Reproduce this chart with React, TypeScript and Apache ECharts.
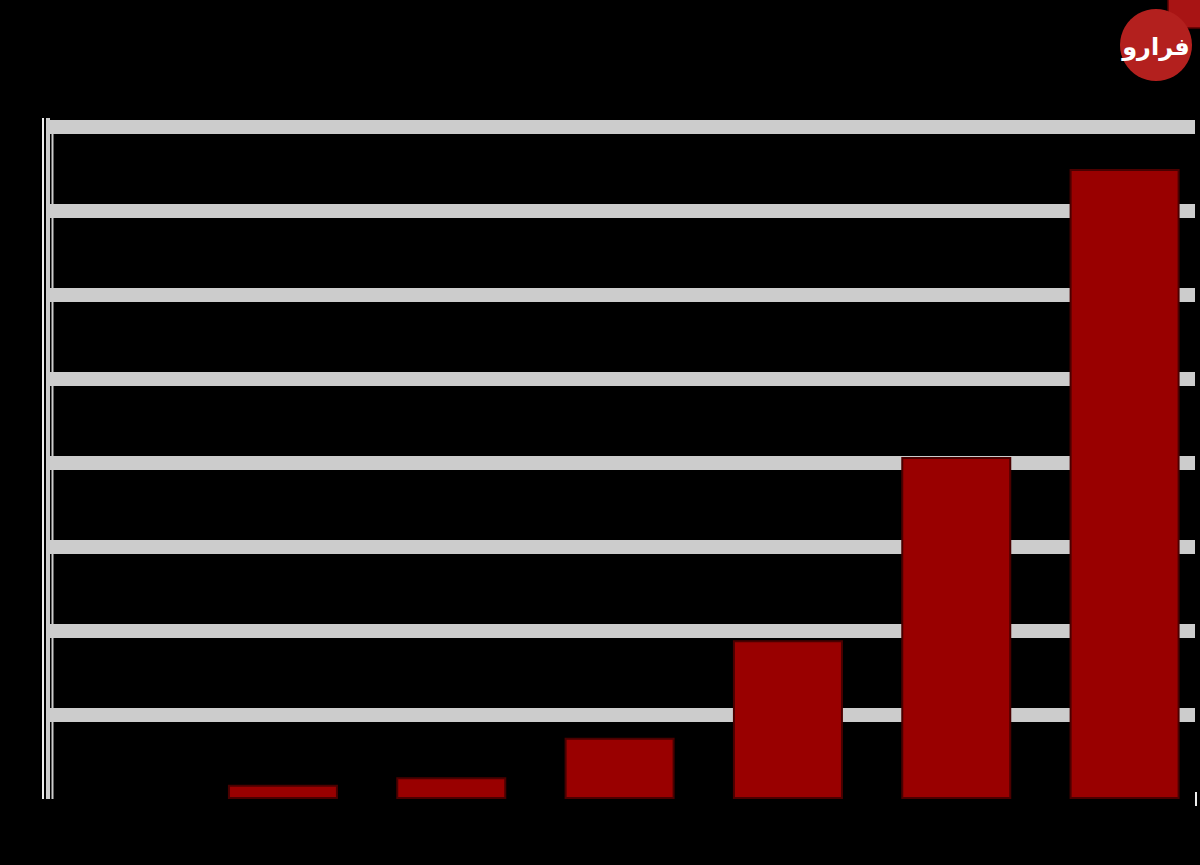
import React, { useEffect, useRef } from "react";
import * as echarts from "echarts";

const categories = ["1", "2", "3", "4", "5", "6", "7"];
const values = [0, 0.17, 0.26, 0.73, 1.89, 4.07, 7.5];
const yMin = 0;
const yMax = 8;
const yStep = 1;
const logoText = "فرارو";

export default function App() {
  const ref = useRef<HTMLDivElement>(null);
  useEffect(() => {
    if (!ref.current) return;
    const chart = echarts.init(ref.current, undefined, { renderer: "svg" });
    chart.setOption({
      animation: false,
      backgroundColor: "#000000",
      grid: [
        { left: 46, top: 127, width: 1149, height: 672 },
        { left: 114.6, top: 127, width: 1010, height: 672 },
      ],
      xAxis: [
        { gridIndex: 0, type: "value", min: 0, max: 1, show: false },
        {
          gridIndex: 1,
          type: "category",
          data: categories,
          boundaryGap: false,
          axisLine: { show: false },
          axisTick: { show: false },
          axisLabel: { show: false },
          splitLine: { show: false },
        },
      ],
      yAxis: [
        {
          gridIndex: 0,
          type: "value",
          min: yMin,
          max: yMax,
          interval: yStep,
          axisLine: { show: false },
          axisTick: { show: false },
          axisLabel: { show: false },
          splitLine: {
            show: true,
            showMinLine: false,
            lineStyle: { color: "#cccccc", width: 14 },
          },
        },
        {
          gridIndex: 1,
          type: "value",
          min: yMin,
          max: yMax,
          interval: yStep,
          show: false,
          splitLine: { show: false },
        },
      ],
      series: [
        {
          type: "bar",
          xAxisIndex: 1,
          yAxisIndex: 1,
          data: values.map((v) => (v === 0 ? { value: v, itemStyle: { borderWidth: 0 } } : v)),
          barWidth: 110,
          itemStyle: { color: "#990000", borderColor: "#4a0000", borderWidth: 2 },
        },
      ],
      graphic: [
        { type: "line", shape: { x1: 43, y1: 118, x2: 43, y2: 799 }, style: { stroke: "#eeeeee", lineWidth: 2 } },
        { type: "line", shape: { x1: 48, y1: 118, x2: 48, y2: 799 }, style: { stroke: "#cccccc", lineWidth: 4 } },
        { type: "line", shape: { x1: 52.5, y1: 134, x2: 52.5, y2: 799 }, style: { stroke: "#cccccc", lineWidth: 2 } },
        { type: "line", shape: { x1: 1196, y1: 792, x2: 1196, y2: 806 }, style: { stroke: "#eeeeee", lineWidth: 2 } },
        { type: "rect", shape: { x: 1168, y: -2, width: 34, height: 30 }, style: { fill: "#a81414", stroke: "#5a0000", lineWidth: 1.5 } },
        { type: "circle", shape: { cx: 1156, cy: 45, r: 36 }, style: { fill: "#b3201e" } },
        {
          type: "text",
          x: 1156,
          y: 47,
          style: {
            text: logoText,
            fill: "#ffffff",
            font: "bold 24px 'DejaVu Sans'",
            align: "center",
            verticalAlign: "middle",
          },
        },
      ],
    });
    return () => chart.dispose();
  }, []);
  return (
    <div
      ref={ref}
      style={{ position: "absolute", left: 0, top: 0, width: 1200, height: 865, background: "#000" }}
    />
  );
}
